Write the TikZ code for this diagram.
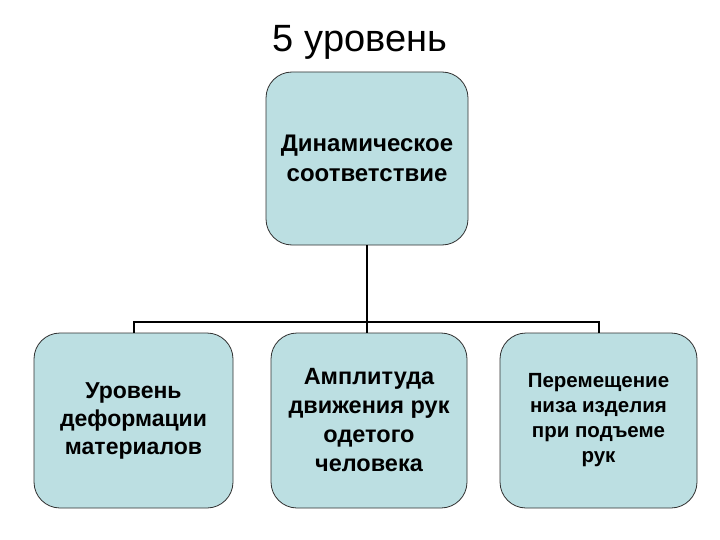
\documentclass[tikz,border=0pt]{standalone}
\usepackage{fontspec}
\setmainfont{Liberation Sans}
\definecolor{boxfill}{HTML}{BCDFE2}
\definecolor{boxline}{HTML}{303030}
\begin{document}
\begin{tikzpicture}[x=1pt,y=-1pt,
  box/.style={draw=boxline, line width=0.8pt, fill=boxfill, rounded corners=26pt,
    inner sep=0pt, align=center},
  conn/.style={draw=black, line width=2pt}]
\useasboundingbox (0,0) rectangle (720,540);
\node[font=\fontsize{38}{42}\selectfont] (title) at (360,42) {5 уровень};
\node[box, minimum width=202pt, minimum height=173pt,
  font=\bfseries\fontsize{24}{30}\selectfont] (top) at (367,158.5)
  {Динамическое\\ соответствие};
\node[box, minimum width=199pt, minimum height=175pt,
  font=\bfseries\fontsize{23}{28}\selectfont] (b1) at (133.5,420.5)
  {Уровень\\ деформации\\ материалов};
\node[box, minimum width=196pt, minimum height=175pt,
  font=\bfseries\fontsize{23.5}{29}\selectfont] (b2) at (369,420.5)
  {Амплитуда\\ движения рук\\ одетого\\ человека};
\node[box, minimum width=197pt, minimum height=175pt,
  font=\bfseries\fontsize{20.5}{25}\selectfont] (b3) at (598.5,420.5)
  {Перемещение\\ низа изделия\\ при подъеме\\ рук};
\coordinate (bus) at (367,322);
\draw[conn] (top.south -| bus) -- (b2.north -| bus);
\draw[conn] (b1.north) |- (bus) -| (b3.north);
\end{tikzpicture}
\end{document}
